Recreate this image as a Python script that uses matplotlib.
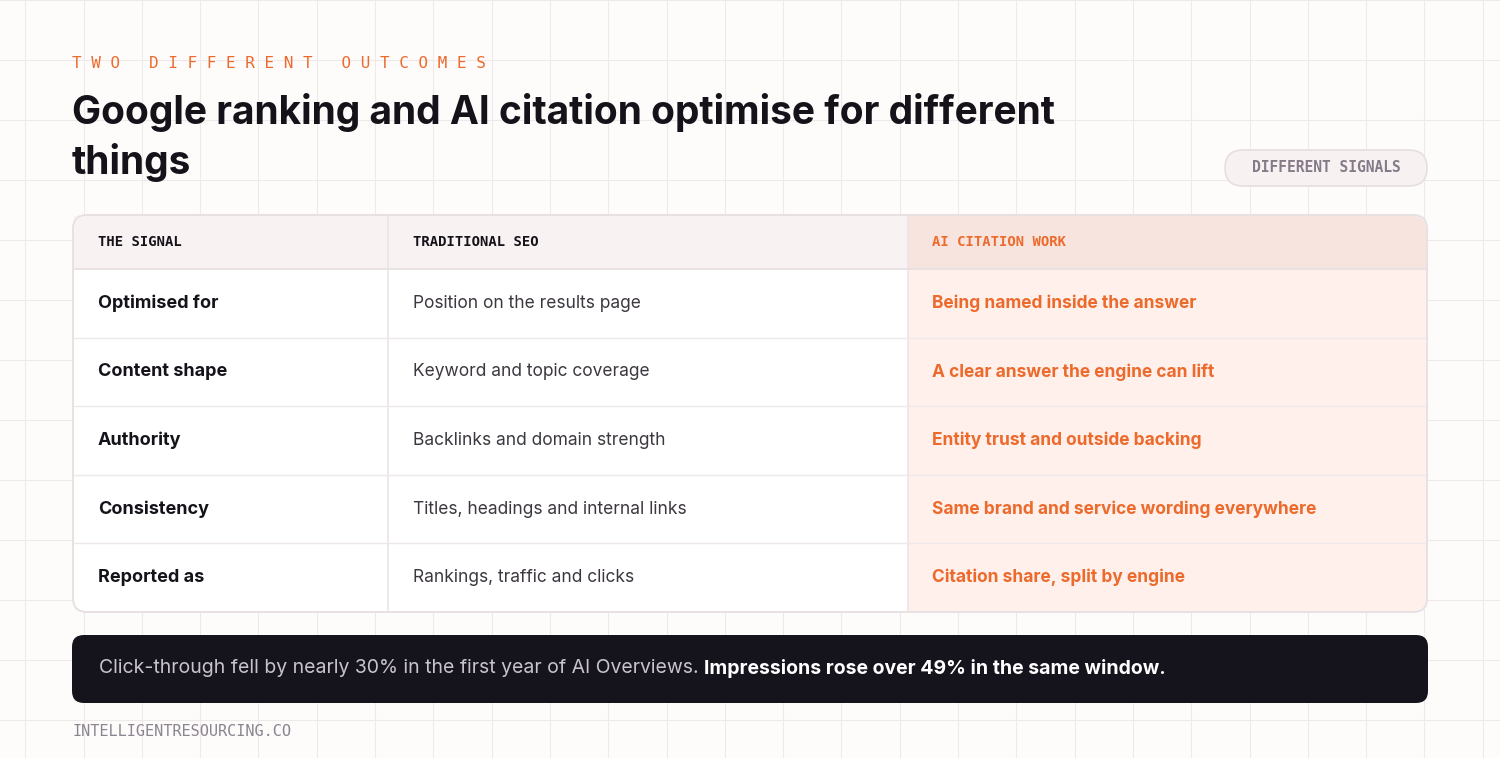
import matplotlib
matplotlib.use("Agg")
import matplotlib.pyplot as plt
from matplotlib.patches import FancyBboxPatch, Rectangle
import numpy as np

eyebrow = "TWO DIFFERENT OUTCOMES"
title_lines = ["Google ranking and AI citation optimise for different", "things"]
badge = "DIFFERENT SIGNALS"
headers = ["THE SIGNAL", "TRADITIONAL SEO", "AI CITATION WORK"]
signals = ["Optimised for", "Content shape", "Authority", "Consistency", "Reported as"]
seo = ["Position on the results page", "Keyword and topic coverage", "Backlinks and domain strength",
       "Titles, headings and internal links", "Rankings, traffic and clicks"]
ai = ["Being named inside the answer", "A clear answer the engine can lift", "Entity trust and outside backing",
      "Same brand and service wording everywhere", "Citation share, split by engine"]
note_light = "Click-through fell by nearly 30% in the first year of AI Overviews. "
note_bold = "Impressions rose over 49% in the same window."
footer = "INTELLIGENTRESOURCING.CO"

W, H = 1500, 758
fig = plt.figure(figsize=(15, 7.58), dpi=100)
ax = fig.add_axes([0, 0, 1, 1])
ax.set_xlim(0, W); ax.set_ylim(H, 0); ax.axis("off")
fig.patch.set_facecolor("#fefbfb")

# background grid
for x in np.arange(958 - 58.3 * 17, W, 58.3):
    ax.plot([x, x], [0, H], color="#efe9ea", lw=0.8, zorder=0)
for y in np.arange(180 - 60 * 3, H, 60):
    ax.plot([0, W], [y, y], color="#efe9ea", lw=0.8, zorder=0)

ORANGE = "#ec6a2c"
mono = "DejaVu Sans Mono"
ax.text(72, 63, "  ".join([" ".join(w) for w in eyebrow.split(" ")]).replace("  ", "   "),
        fontsize=11.5, family=mono, color=ORANGE, va="center")
ax.text(72, 113, title_lines[0], fontsize=28, weight="bold", family="Inter", color="#15121a", va="center")
ax.text(72, 163, title_lines[1], fontsize=28, weight="bold", family="Inter", color="#15121a", va="center")

ax.add_patch(FancyBboxPatch((1225, 150), 202, 36, boxstyle="round,pad=0,rounding_size=18",
                            fc="#f7f1f2", ec="#e6dfe1", lw=1.2, zorder=2))
ax.text(1326, 168, badge, fontsize=10.5, family=mono, weight="bold", color="#857a88",
        ha="center", va="center", zorder=3)

# table
tx0, tx1, ty0, ty1 = 73, 1427, 215, 612
c1, c2 = 388, 908
hy = 269
rowh = (ty1 - hy) / 5
ax.add_patch(FancyBboxPatch((tx0, ty0), tx1 - tx0, ty1 - ty0, boxstyle="round,pad=0,rounding_size=14",
                            fc="white", ec="#e8e1e3", lw=1.2, zorder=2))
ax.add_patch(Rectangle((tx0 + 1, ty0 + 1), c2 - tx0 - 1, hy - ty0 - 1, fc="#f8f3f2", ec="none", zorder=2))
ax.add_patch(Rectangle((c2, hy), tx1 - c2 - 1, ty1 - hy - 14, fc="#fff0ec", ec="none", zorder=2))
ax.add_patch(Rectangle((c2, ty1 - 15), tx1 - c2 - 15, 14, fc="#fff0ec", ec="none", zorder=2))
ax.add_patch(FancyBboxPatch((c2, ty1 - 30), tx1 - c2 - 1, 29, boxstyle="round,pad=0,rounding_size=13",
                            fc="#fff0ec", ec="none", zorder=2))
ax.add_patch(Rectangle((c2, ty0 + 1), tx1 - c2 - 14, hy - ty0 - 1, fc="#f8e4df", ec="none", zorder=2))
ax.add_patch(FancyBboxPatch((c2, ty0 + 1), tx1 - c2 - 1, hy - ty0 - 1, boxstyle="round,pad=0,rounding_size=13",
                            fc="#f8e4df", ec="none", zorder=2))
ax.add_patch(Rectangle((c2, ty0 + 20), tx1 - c2 - 1, hy - ty0 - 20, fc="#f8e4df", ec="none", zorder=2))
ax.add_patch(FancyBboxPatch((tx0, ty0), tx1 - tx0, ty1 - ty0, boxstyle="round,pad=0,rounding_size=14",
                            fc="none", ec="#e8e1e3", lw=1.2, zorder=4))
for x in (c1, c2):
    ax.plot([x, x], [ty0, ty1], color="#ebe4e6", lw=1.2, zorder=3)
ax.plot([tx0, tx1], [hy, hy], color="#e6dfe1", lw=1.2, zorder=3)
for i in range(1, 5):
    y = hy + i * rowh
    ax.plot([tx0, tx1], [y, y], color="#eee8ea", lw=1, zorder=3)

hx = [98, 413, 932]
for j, h in enumerate(headers):
    ax.text(hx[j], 242, h, fontsize=10, family=mono, weight="bold",
            color=ORANGE if j == 2 else "#15121a", va="center", zorder=5)
for i in range(5):
    y = hy + (i + 0.5) * rowh
    ax.text(98, y, signals[i], fontsize=13, weight="bold", family="Inter", color="#15121a", va="center", zorder=5)
    ax.text(413, y, seo[i], fontsize=12.5, family="Inter", color="#3d3840", va="center", zorder=5)
    ax.text(932, y, ai[i], fontsize=12.5, weight="bold", family="Inter", color=ORANGE, va="center", zorder=5)

# note bar
ax.add_patch(FancyBboxPatch((72, 635), 1356, 68, boxstyle="round,pad=0,rounding_size=12",
                            fc="#15131c", ec="none", zorder=2))
t = ax.text(99, 668, note_light, fontsize=14, family="Inter", color="#c9c4cc", va="center", zorder=5)
fig.canvas.draw()
bb = t.get_window_extent()
x_end = ax.transData.inverted().transform((bb.x1, bb.y0))[0]
ax.text(x_end, 668, note_bold, fontsize=14, weight="bold", family="Inter", color="white", va="center", zorder=5)

ax.text(72, 732, footer, fontsize=11, family=mono, color="#8a8590", va="center")

fig.savefig("out.png", dpi=100, facecolor=fig.get_facecolor())
